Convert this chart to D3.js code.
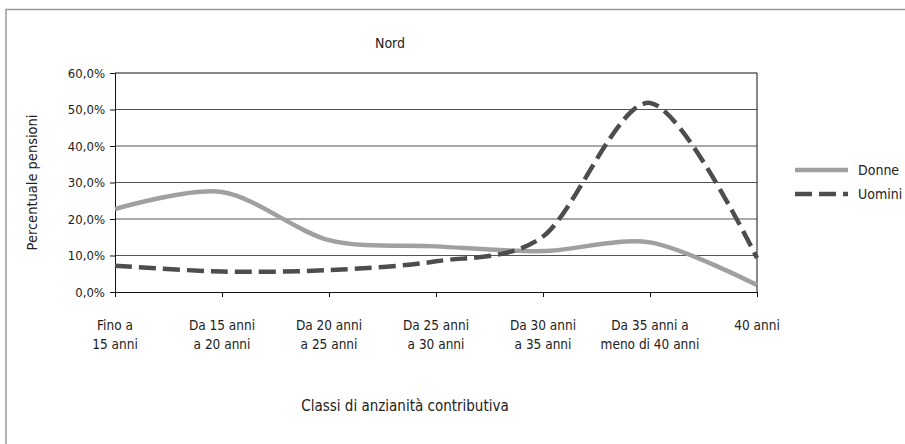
<!DOCTYPE html>
<html>
<head>
<meta charset="utf-8">
<script src="https://cdn.jsdelivr.net/npm/d3@7"></script>
<style>
  body { margin: 0; background: #fff; }
  svg text { font-family: "DejaVu Sans Condensed", "DejaVu Sans", sans-serif; fill: #222; }
</style>
</head>
<body>
<div id="chart"></div>
<script>
// categories on the x axis (two lines each)
var categories = [
  ["Fino a", "15 anni"],
  ["Da 15 anni", "a 20 anni"],
  ["Da 20 anni", "a 25 anni"],
  ["Da 25 anni", "a 30 anni"],
  ["Da 30 anni", "a 35 anni"],
  ["Da 35 anni a", "meno di 40 anni"],
  ["40 anni", ""]
];
var donne = [22.7, 27.4, 14.2, 12.5, 11.2, 13.6, 1.9];
var uomini = [7.2, 5.6, 6.0, 8.4, 15.2, 51.8, 9.3];
var yTicks = [0, 10, 20, 30, 40, 50, 60];

var width = 905, height = 444;
var margin = {top: 73, left: 115, right: 148, bottom: 152};
var fs = 13.5;

var svg = d3.select("#chart").append("svg")
  .attr("width", width)
  .attr("height", height);

// outer frame
svg.append("rect")
  .attr("x", 6).attr("y", 9.5)
  .attr("width", width + 10).attr("height", height + 10)
  .attr("fill", "none")
  .attr("stroke", "#999")
  .attr("stroke-width", 1.5);

var x = d3.scalePoint()
  .domain(d3.range(categories.length))
  .range([margin.left, width - margin.right]);

var y = d3.scaleLinear()
  .domain([0, 60])
  .range([height - margin.bottom, margin.top]);

// gridlines
svg.append("g")
  .selectAll("line")
  .data(yTicks.slice(1, -1))
  .enter().append("line")
  .attr("x1", margin.left).attr("x2", width - margin.right)
  .attr("y1", function(d) { return y(d); })
  .attr("y2", function(d) { return y(d); })
  .attr("stroke", "#555")
  .attr("stroke-width", 1);

// plot top + right border
svg.append("path")
  .attr("d", "M" + margin.left + "," + y(60) + "H" + (width - margin.right) + "V" + y(0))
  .attr("fill", "none")
  .attr("stroke", "#111")
  .attr("stroke-width", 1);

// y axis
var yAxis = svg.append("g")
  .attr("transform", "translate(" + margin.left + ",0)")
  .call(d3.axisLeft(y).tickValues(yTicks).tickSize(5).tickPadding(5)
    .tickFormat(function(d) { return d3.format(".1f")(d).replace(".", ",") + "%"; }));
yAxis.select(".domain").attr("stroke", "#111");
yAxis.selectAll(".tick line").attr("stroke", "#111");
yAxis.selectAll("text").attr("font-size", 13).attr("fill", "#222")
  .attr("font-family", "DejaVu Sans Condensed, DejaVu Sans, sans-serif");

// x axis
var xAxis = svg.append("g")
  .attr("transform", "translate(0," + y(0) + ")")
  .call(d3.axisBottom(x).tickSize(5).tickFormat(""));
xAxis.select(".domain").attr("stroke", "#111");
xAxis.selectAll(".tick line").attr("stroke", "#111");

var labels = svg.append("g").selectAll("text")
  .data(categories)
  .enter().append("text")
  .attr("text-anchor", "middle")
  .attr("font-size", fs)
  .attr("x", function(d, i) { return x(i); })
  .attr("y", y(0) + 38);
labels.append("tspan")
  .attr("x", function(d, i) { return x(i); })
  .text(function(d) { return d[0]; });
labels.append("tspan")
  .attr("x", function(d, i) { return x(i); })
  .attr("dy", 19)
  .text(function(d) { return d[1]; });

// lines
var line = d3.line()
  .x(function(d, i) { return x(i); })
  .y(function(d) { return y(d); })
  .curve(d3.curveCardinal.tension(0.1));

svg.append("path")
  .datum(donne)
  .attr("d", line)
  .attr("fill", "none")
  .attr("stroke", "#a0a0a0")
  .attr("stroke-width", 4.5);

svg.append("path")
  .datum(uomini)
  .attr("d", line)
  .attr("fill", "none")
  .attr("stroke", "#4d4d4d")
  .attr("stroke-width", 4.5)
  .attr("stroke-dasharray", "17,7");

// title
svg.append("text")
  .attr("x", 390).attr("y", 48)
  .attr("text-anchor", "middle")
  .attr("font-size", 14)
  .text("Nord");

// axis titles
svg.append("text")
  .attr("transform", "translate(37," + ((y(0) + y(60)) / 2) + ") rotate(-90)")
  .attr("text-anchor", "middle")
  .attr("font-size", 14.5)
  .text("Percentuale pensioni");

svg.append("text")
  .attr("x", 405).attr("y", 411)
  .attr("text-anchor", "middle")
  .attr("font-size", 15)
  .text("Classi di anzianità contributiva");

// legend
var legend = [
  {name: "Donne", color: "#a0a0a0", dash: null},
  {name: "Uomini", color: "#4d4d4d", dash: "17,7"}
];
var lg = svg.append("g").selectAll("g")
  .data(legend)
  .enter().append("g")
  .attr("transform", function(d, i) { return "translate(795," + (170 + i * 24) + ")"; });
lg.append("line")
  .attr("x1", 0).attr("x2", 53)
  .attr("stroke", function(d) { return d.color; })
  .attr("stroke-width", 4.5)
  .attr("stroke-dasharray", function(d) { return d.dash; });
lg.append("text")
  .attr("x", 63).attr("y", 5)
  .attr("font-size", 14)
  .text(function(d) { return d.name; });
</script>
</body>
</html>
